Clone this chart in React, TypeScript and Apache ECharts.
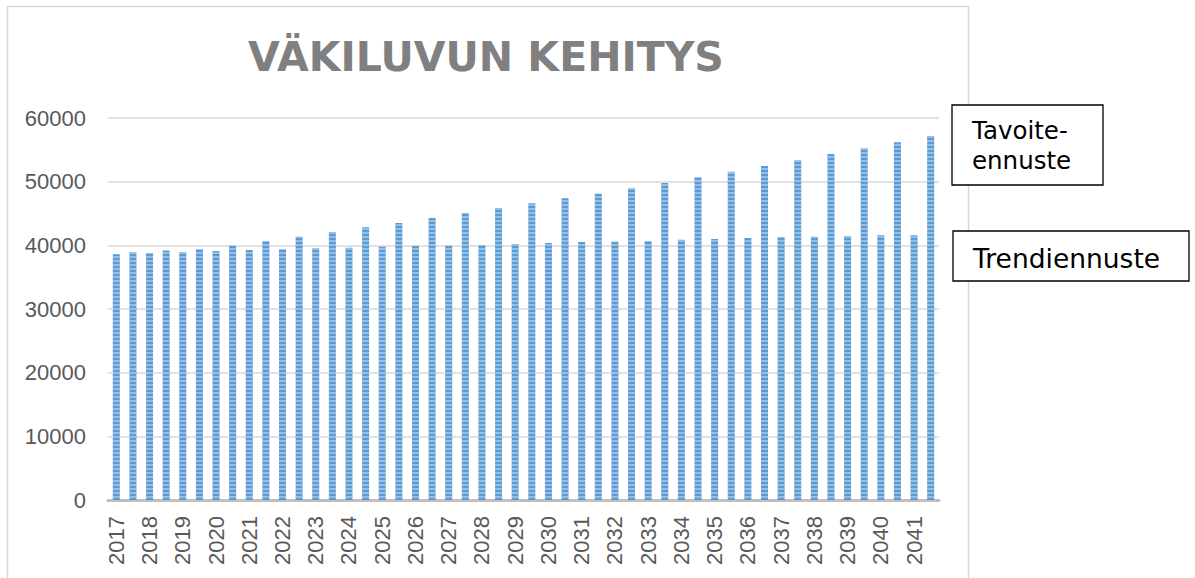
import React, { useEffect, useRef } from "react";
import * as echarts from "echarts";

const years = [
  "2017", "2018", "2019", "2020", "2021", "2022", "2023", "2024", "2025",
  "2026", "2027", "2028", "2029", "2030", "2031", "2032", "2033", "2034",
  "2035", "2036", "2037", "2038", "2039", "2040", "2041",
];

// Trendiennuste (first bar of each year)
const trend = [
  38600, 38800, 38950, 39100, 39270, 39370, 39530, 39630, 39790, 39890,
  39950, 40050, 40210, 40370, 40520, 40580, 40680, 40890, 40990, 41150,
  41310, 41360, 41470, 41570, 41570,
];

// Tavoite-ennuste (second bar of each year)
const target = [
  38900, 39200, 39400, 39950, 40680, 41360, 42090, 42830, 43500, 44290,
  45080, 45860, 46600, 47380, 48110, 48950, 49790, 50680, 51570, 52460,
  53350, 54350, 55240, 56180, 57170,
];

const yTicks = { min: 0, max: 60000, interval: 10000 };

const title = "VÄKILUVUN KEHITYS";
const labelTarget = "Tavoite-\nennuste";
const labelTrend = "Trendiennuste";

export default function App() {
  const ref = useRef<HTMLDivElement>(null);

  useEffect(() => {
    if (!ref.current) return;
    const chart = echarts.init(ref.current, undefined, { renderer: "svg" });

    const categories: string[] = [];
    const values: number[] = [];
    years.forEach((y, i) => {
      categories.push(y);
      values.push(trend[i]);
      categories.push(" ".repeat(i + 1));
      values.push(target[i]);
    });

    chart.setOption({
      animation: false,
      backgroundColor: "#ffffff",
      grid: { left: 108, right: 256, top: 118, bottom: 78, containLabel: false },
      xAxis: {
        type: "category",
        data: categories,
        axisLine: { show: true, lineStyle: { color: "#bfbfbf", width: 3 } },
        axisTick: { show: false },
        axisLabel: {
          interval: 0,
          rotate: 90,
          margin: 16,
          color: "#595959",
          fontSize: 22,
          fontFamily: "Liberation Sans",
          formatter: (v: string) => v.trim(),
        },
      },
      yAxis: {
        type: "value",
        min: yTicks.min,
        max: yTicks.max,
        interval: yTicks.interval,
        axisLine: { show: false },
        axisTick: { show: false },
        splitLine: { lineStyle: { color: "#d9d9d9", width: 1.5 } },
        axisLabel: {
          margin: 22,
          color: "#595959",
          fontSize: 22,
          fontFamily: "Liberation Sans",
          formatter: (v: number) => String(v),
        },
      },
      series: [
        {
          type: "bar",
          data: values,
          barWidth: 7,
          itemStyle: {
            color: "#5b9bd5",
            decal: {
              symbol: "rect",
              dashArrayX: [1, 0],
              dashArrayY: [1.5, 1.5],
              rotation: 0,
              color: "rgba(255,255,255,0.35)",
            },
          },
        },
      ],
      graphic: [
        {
          type: "rect",
          shape: { x: 7.5, y: 6.5, width: 961, height: 620 },
          style: { fill: "none", stroke: "#d9d9d9", lineWidth: 1.5 },
          silent: true,
          z: -1,
        },
        {
          type: "text",
          x: 486,
          y: 57,
          style: {
            text: title,
            fill: "#808080",
            font: "bold 41px 'DejaVu Sans'",
            textAlign: "center",
            textVerticalAlign: "middle",
          },
        },
        {
          type: "rect",
          shape: { x: 952, y: 105, width: 151, height: 80 },
          style: { fill: "#ffffff", stroke: "#000000", lineWidth: 1.3 },
          z: 10,
        },
        {
          type: "text",
          x: 972,
          y: 145,
          z: 11,
          style: {
            text: labelTarget,
            fill: "#000000",
            font: "24.5px 'DejaVu Sans'",
            lineHeight: 30,
            textAlign: "left",
            textVerticalAlign: "middle",
          },
        },
        {
          type: "rect",
          shape: { x: 953, y: 231, width: 236, height: 50 },
          style: { fill: "#ffffff", stroke: "#000000", lineWidth: 1.3 },
          z: 10,
        },
        {
          type: "text",
          x: 973,
          y: 258,
          z: 11,
          style: {
            text: labelTrend,
            fill: "#000000",
            font: "26.5px 'DejaVu Sans'",
            textAlign: "left",
            textVerticalAlign: "middle",
          },
        },
      ],
    });

    return () => chart.dispose();
  }, []);

  return (
    <div
      ref={ref}
      style={{ position: "fixed", left: 0, top: 0, width: 1195, height: 578 }}
    />
  );
}
